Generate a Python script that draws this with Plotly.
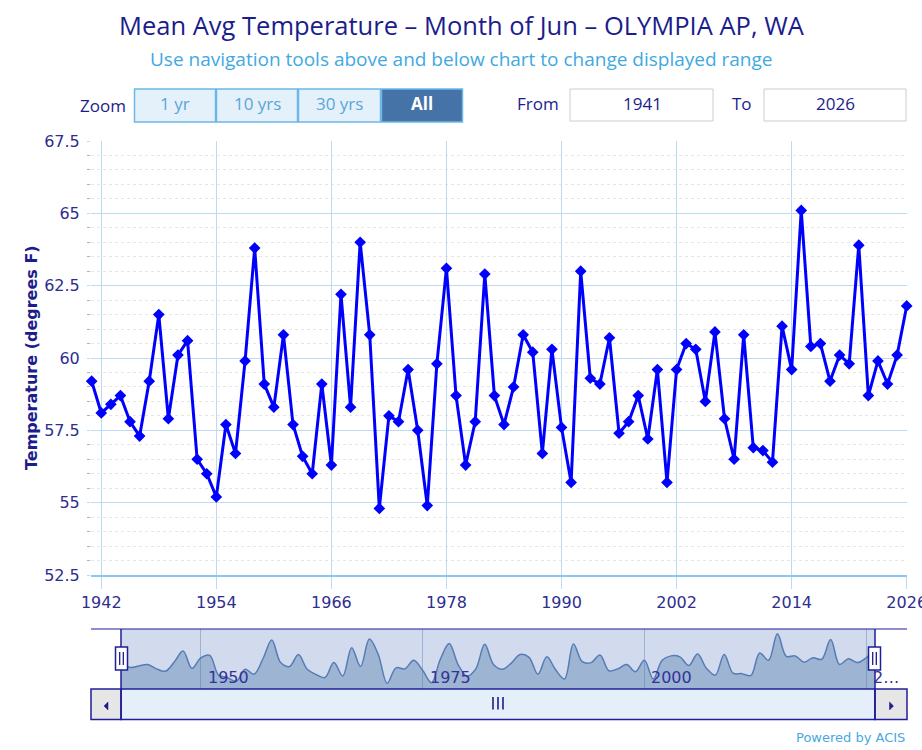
import plotly.graph_objects as go

# ---------------- data ----------------
years = list(range(1941, 2027))
temps = [
    59.2, 58.1, 58.4, 58.7, 57.8, 57.3, 59.2, 61.5, 57.9, 60.1,   # 1941-1950
    60.6, 56.5, 56.0, 55.2, 57.7, 56.7, 59.9, 63.8, 59.1, 58.3,   # 1951-1960
    60.8, 57.7, 56.6, 56.0, 59.1, 56.3, 62.2, 58.3, 64.0, 60.8,   # 1961-1970
    54.8, 58.0, 57.8, 59.6, 57.5, 54.9, 59.8, 63.1, 58.7, 56.3,   # 1971-1980
    57.8, 62.9, 58.7, 57.7, 59.0, 60.8, 60.2, 56.7, 60.3, 57.6,   # 1981-1990
    55.7, 63.0, 59.3, 59.1, 60.7, 57.4, 57.8, 58.7, 57.2, 59.6,   # 1991-2000
    55.7, 59.6, 60.5, 60.3, 58.5, 60.9, 57.9, 56.5, 60.8, 56.9,   # 2001-2010
    56.8, 56.4, 61.1, 59.6, 65.1, 60.4, 60.5, 59.2, 60.1, 59.8,   # 2011-2020
    63.9, 58.7, 59.9, 59.1, 60.1, 61.8,                           # 2021-2026
]
x_ticks = [1942, 1954, 1966, 1978, 1990, 2002, 2014, 2026]
y_ticks = [52.5, 55, 57.5, 60, 62.5, 65, 67.5]
y_tick_text = ["52.5", "55", "57.5", "60", "62.5", "65", "67.5"]
nav_ticks = [1950, 1975, 2000, 2025]
nav_tick_text = ["1950", "1975", "2000", "2\u2026"]
zoom_buttons = ["1 yr", "10 yrs", "30 yrs", "All"]

title_text = "Mean Avg Temperature \u2013 Month of Jun \u2013 OLYMPIA AP, WA"
subtitle_text = "Use navigation tools above and below chart to change displayed range"

# ---------------- geometry helpers ----------------
W, H = 922, 750
ML, MR, MT, MB = 91, 15, 141, 30
PW, PH = W - ML - MR, H - MT - MB


def X(px):
    return (px - ML) / PW


def Y(py):
    return (H - MB - py) / PH


NAVY = "#1c1c8c"
TICK = "#2e2e8f"
GRID = "#bcdaf0"
LIGHT = "#41a9e1"
EDGE = "#1f1f99"

fig = go.Figure()

fig.add_trace(go.Scatter(
    x=years, y=temps, mode="lines+markers",
    line=dict(color="#0000ff", width=3),
    marker=dict(symbol="diamond", size=9, color="#0000ff"),
    cliponaxis=False, hoverinfo="skip",
))

fig.add_trace(go.Scatter(
    x=years, y=temps, xaxis="x2", yaxis="y2", mode="lines",
    line=dict(color="#557cb5", width=1.5, shape="spline"),
    fill="tozeroy", fillcolor="rgba(69,114,167,0.37)",
    hoverinfo="skip",
))

shapes = []
annotations = []


def rect(x0, y0, x1, y1, fill, line_color, lw=1, layer="above"):
    shapes.append(dict(type="rect", xref="paper", yref="paper",
                       x0=X(x0), x1=X(x1), y0=Y(y1), y1=Y(y0),
                       fillcolor=fill, line=dict(color=line_color, width=lw),
                       layer=layer))


def line(x0, y0, x1, y1, color, lw=1, layer="above", dash=None):
    d = dict(color=color, width=lw)
    if dash:
        d["dash"] = dash
    shapes.append(dict(type="line", xref="paper", yref="paper",
                       x0=X(x0), x1=X(x1), y0=Y(y0), y1=Y(y1),
                       line=d, layer=layer))


def text(s, px, py, size, color, family="Open Sans", xanchor="center", bold=False, angle=0):
    annotations.append(dict(text=("<b>%s</b>" % s) if bold else s, xref="paper", yref="paper",
                            x=X(px), y=Y(py), xanchor=xanchor, yanchor="middle",
                            showarrow=False, textangle=angle,
                            font=dict(family=family, size=size, color=color)))


# title / subtitle
text(title_text, 462, 25, 25.5, NAVY)
text(subtitle_text, 461, 59, 19, LIGHT)

# zoom buttons
text("Zoom", 103, 105, 17, NAVY)
bx = [134, 216, 298, 381, 463]
for i, lab in enumerate(zoom_buttons):
    sel = lab == "All"
    shapes.append(dict(type="rect", xref="paper", yref="paper",
                       x0=X(bx[i] + 0.5), x1=X(bx[i + 1] - 0.5), y0=Y(122), y1=Y(89),
                       fillcolor="#4572a7" if sel else "#e4f1fb",
                       line=dict(color="#6bb8e8", width=1.5), layer="above"))
    text(lab, (bx[i] + bx[i + 1]) / 2, 104, 17, "#ffffff" if sel else "#5aa5d8", bold=sel)

# From / To inputs
text("From", 538, 104, 17, NAVY)
rect(570, 89, 713, 121, "#ffffff", "#cccccc")
text("1941", 642, 104, 17, NAVY)
text("To", 742, 104, 17, NAVY)
rect(764, 89, 906, 121, "#ffffff", "#cccccc")
text("2026", 835, 104, 17, NAVY)

# y axis title
text("Temperature (degrees F)", 31, 358, 16, NAVY, family="DejaVu Sans", bold=True, angle=-90)

# navigator background (mask)
rect(121, 629, 875, 689, "#d1dbed", "rgba(0,0,0,0)", 0, layer="below")
# navigator outline
line(91, 629, 907, 629, EDGE, 1.2)
# scrollbar
rect(121, 689, 875, 719.5, "#e4effa", EDGE, 1.5)
rect(91, 689, 121, 719.5, "#e6e6e6", EDGE, 1.5)
rect(875, 689, 907, 719.5, "#e6e6e6", EDGE, 1.5)
line(121, 629, 121, 719.5, EDGE, 1.5)
line(875, 629, 875, 719.5, EDGE, 1.5)
# arrows
shapes.append(dict(type="path", xref="paper", yref="paper",
                   path="M %f,%f L %f,%f L %f,%f Z" % (X(104), Y(706), X(108), Y(702), X(108), Y(710)),
                   fillcolor=NAVY, line=dict(color=NAVY, width=0.5)))
shapes.append(dict(type="path", xref="paper", yref="paper",
                   path="M %f,%f L %f,%f L %f,%f Z" % (X(893.5), Y(706), X(889.5), Y(702), X(889.5), Y(710)),
                   fillcolor=NAVY, line=dict(color=NAVY, width=0.5)))
# grip
for gx in (493, 498, 503):
    line(gx, 697, gx, 709.5, NAVY, 1.6)
# handles
for hx in (121.5, 874.5):
    rect(hx - 6, 647, hx + 6, 670, "#ffffff", EDGE, 1.5)
    line(hx - 1.8, 652, hx - 1.8, 665, NAVY, 1.3)
    line(hx + 1.8, 652, hx + 1.8, 665, NAVY, 1.3)

# navigator labels
for v, t in zip(nav_ticks, nav_tick_text):
    annotations.append(dict(text=t, xref="x2", yref="paper", x=v, y=Y(677),
                            xanchor="left", yanchor="middle", xshift=5, showarrow=False,
                            font=dict(family="DejaVu Sans", size=16, color="#33339a")))

# credits
annotations.append(dict(text="Powered by ACIS", xref="paper", yref="paper",
                        x=X(907), y=Y(737), xanchor="right", yanchor="middle", showarrow=False,
                        font=dict(family="DejaVu Sans", size=13, color="#4aa8e0")))

fig.update_layout(
    width=W, height=H,
    margin=dict(l=ML, r=MR, t=MT, b=MB, pad=0, autoexpand=False),
    paper_bgcolor="#ffffff", plot_bgcolor="#ffffff",
    showlegend=False, hovermode=False,
    shapes=shapes, annotations=annotations,
    xaxis=dict(
        domain=[0, 1], range=[1940.93, 2026.03], anchor="y",
        tickvals=x_ticks, ticktext=[str(v) for v in x_ticks],
        showgrid=True, gridcolor=GRID, gridwidth=1, zeroline=False,
        ticks="outside", ticklen=12, tickcolor=GRID, tickwidth=1,
        showline=True, linecolor="#8cc6ec", linewidth=1.5,
        tickfont=dict(family="DejaVu Sans", size=16, color=TICK),
        ticklabeloverflow="allow", automargin=False,
        fixedrange=True,
    ),
    yaxis=dict(
        domain=[Y(575), 1], range=[52.5, 67.5], anchor="x",
        tickvals=y_ticks, ticktext=y_tick_text,
        showgrid=True, gridcolor=GRID, gridwidth=1, zeroline=False,
        ticks="outside", ticklen=3, tickcolor=GRID,
        showline=False, automargin=False,
        tickfont=dict(family="DejaVu Sans", size=16, color=TICK),
        ticklabelstandoff=4,
        minor=dict(dtick=0.5, tick0=52.5, showgrid=True, gridcolor="#e6e6e6",
                   griddash="dot", ticks="outside", ticklen=3, tickcolor="#b0b0b0"),
        fixedrange=True,
    ),
    xaxis2=dict(
        domain=[X(121), X(875)], range=[1941, 2026], anchor="y2",
        tickvals=nav_ticks, showticklabels=False, ticks="",
        showgrid=True, gridcolor="rgba(90,130,190,0.45)", gridwidth=1, zeroline=False,
        showline=False, fixedrange=True, automargin=False,
    ),
    yaxis2=dict(
        domain=[Y(689), Y(629)], range=[53.6, 66.1], anchor="x2",
        showgrid=False, showticklabels=False, ticks="", zeroline=False,
        showline=False, fixedrange=True, automargin=False,
    ),
)

fig.write_html("out.html", config={"displayModeBar": False})
